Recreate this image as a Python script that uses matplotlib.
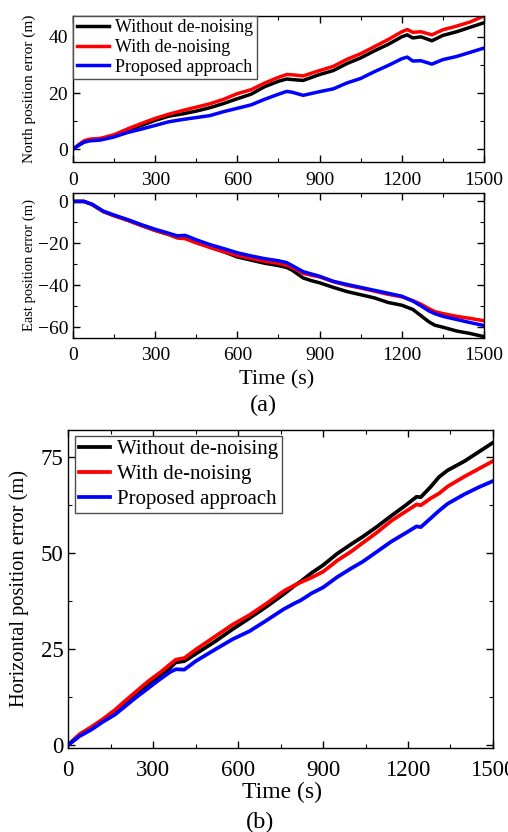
import matplotlib
matplotlib.use('Agg')
import matplotlib.pyplot as plt
from matplotlib.ticker import MultipleLocator

plt.rcParams['font.family'] = 'serif'
plt.rcParams['font.serif'] = ['Liberation Serif', 'DejaVu Serif']

labels = ['Without de-noising', 'With de-noising', 'Proposed approach']
colors = ['black', 'red', 'blue']

# north position error
t_north = [0, 20, 40, 60, 100, 150, 200, 250, 300, 350, 400, 450, 500, 550, 600, 650, 700, 750, 780, 800,
           840, 900, 950, 1000, 1050, 1100, 1150, 1200, 1220, 1240, 1270, 1310, 1350, 1400, 1450, 1500]
north_without = [0, 1.5, 2.8, 3.4, 3.7, 4.8, 6.8, 8.5, 10.3, 11.8, 12.6, 13.6, 14.8, 16.3, 18.0, 19.6, 22.3, 24.2, 25.0, 24.8,
                 24.5, 26.6, 28.0, 30.5, 32.5, 35.0, 37.3, 40.0, 40.7, 39.6, 40.0, 38.6, 40.5, 41.8, 43.4, 45.0]
north_with = [0, 1.6, 3.0, 3.6, 3.9, 5.2, 7.3, 9.2, 11.0, 12.5, 13.8, 15.0, 16.2, 17.8, 19.8, 21.2, 23.6, 25.6, 26.6, 26.5,
              26.1, 28.0, 29.5, 32.0, 34.0, 36.5, 39.0, 41.8, 42.6, 41.6, 41.8, 40.7, 42.5, 43.8, 45.3, 47.4]
north_proposed = [0, 1.4, 2.5, 3.0, 3.3, 4.4, 6.0, 7.2, 8.5, 9.8, 10.6, 11.3, 12.0, 13.4, 14.6, 15.8, 17.8, 19.6, 20.6, 20.3,
                  19.2, 20.5, 21.5, 23.6, 25.2, 27.6, 29.8, 32.2, 32.8, 31.4, 31.5, 30.3, 31.9, 33.0, 34.5, 36.0]

# east position error
t_east = [0, 40, 70, 110, 150, 200, 250, 300, 350, 380, 410, 450, 500, 550, 600, 650, 700, 750, 780, 800,
          840, 870, 900, 950, 1000, 1050, 1100, 1150, 1200, 1240, 1270, 1300, 1320, 1350, 1400, 1450, 1500]
east_without = [0, 0, -1.5, -4.8, -6.8, -9.0, -11.5, -13.8, -15.8, -17.2, -17.5, -19.5, -21.7, -24.0, -26.5, -28.0, -29.5, -30.6, -31.5, -32.8,
                -36.5, -37.8, -38.8, -41.0, -43.0, -44.5, -46.0, -48.2, -49.5, -51.5, -54.5, -57.5, -59.0, -60.0, -61.8, -63.0, -64.5]
east_with = [0, 0, -1.5, -4.8, -6.8, -9.0, -11.5, -13.8, -15.8, -17.4, -17.8, -19.8, -22.0, -24.0, -25.8, -27.2, -28.5, -29.5, -30.5, -31.5,
             -34.3, -35.2, -36.0, -38.3, -40.0, -41.3, -42.8, -44.3, -45.5, -47.3, -49.0, -51.2, -52.5, -53.5, -54.8, -55.8, -56.9]
east_proposed = [0, 0, -1.4, -4.6, -6.5, -8.7, -11.1, -13.3, -15.2, -16.4, -16.2, -18.3, -20.6, -22.5, -24.5, -26.0, -27.3, -28.3, -29.2, -30.6,
                 -33.5, -34.6, -35.7, -38.1, -39.6, -41.0, -42.4, -43.8, -45.2, -47.5, -49.8, -52.3, -53.5, -54.8, -56.3, -57.8, -59.2]

# horizontal position error
t_horiz = [0, 40, 80, 120, 165, 200, 240, 283, 320, 360, 380, 410, 450, 520, 580, 640, 700, 760, 800, 820,
           860, 900, 950, 1000, 1040, 1090, 1140, 1190, 1230, 1245, 1280, 1310, 1340, 1400, 1450, 1500]
horiz_without = [0, 2.6, 4.3, 6.3, 8.6, 10.8, 13.2, 15.9, 17.8, 20.1, 21.5, 21.8, 23.7, 27.0, 30.1, 33.0, 36.0, 39.2, 41.5, 42.5,
                 44.8, 46.8, 49.8, 52.3, 54.2, 56.8, 59.6, 62.3, 64.6, 64.5, 67.2, 69.8, 71.5, 73.9, 76.3, 78.7]
horiz_with = [0, 2.8, 4.6, 6.6, 9.1, 11.4, 13.9, 16.6, 18.6, 21.0, 22.2, 22.6, 24.8, 28.3, 31.3, 33.8, 36.8, 40.0, 41.6, 42.3,
              43.6, 45.1, 48.0, 50.4, 52.6, 55.3, 58.3, 60.7, 62.6, 62.4, 64.2, 65.5, 67.3, 69.9, 71.9, 73.9]
horiz_proposed = [0, 2.3, 3.9, 5.9, 7.9, 10.0, 12.4, 14.8, 16.9, 19.0, 19.7, 19.6, 21.8, 24.9, 27.5, 29.6, 32.4, 35.3, 36.9, 37.6,
                  39.5, 41.0, 43.7, 46.0, 47.7, 50.3, 52.9, 55.1, 56.9, 56.7, 59.0, 61.0, 62.8, 65.3, 67.1, 68.7]


def style_axes(ax, yminor, fs):
    ax.set_xlim(0, 1500)
    ax.xaxis.set_major_locator(MultipleLocator(300))
    ax.xaxis.set_minor_locator(MultipleLocator(150))
    ax.yaxis.set_minor_locator(MultipleLocator(yminor))
    ax.tick_params(which='both', direction='in', top=True, right=True, labelsize=fs)
    ax.tick_params(which='major', length=5, width=1)
    ax.tick_params(which='minor', length=3, width=0.8)
    ax.tick_params(axis='x', pad=7)
    for s in ax.spines.values():
        s.set_linewidth(1.0)


fig = plt.figure(figsize=(5.08, 8.32), dpi=100)

ax1 = fig.add_axes([0.1437, 0.8053, 0.809, 0.1758])
for y, c, l in zip([north_without, north_with, north_proposed], colors, labels):
    ax1.plot(t_north, y, color=c, lw=2.5, label=l)
ax1.set_ylim(-4.5, 47.5)
ax1.yaxis.set_major_locator(MultipleLocator(20))
style_axes(ax1, 10, 14)
ax1.set_ylabel('North position error (m)', fontsize=11)
ax1.yaxis.set_label_coords(-0.09, 0.5)
leg = ax1.legend(loc='upper left', borderaxespad=0, fontsize=13, fancybox=False, edgecolor='0.3',
                 framealpha=1, handlelength=1.8, handletextpad=0.35, borderpad=0.2, labelspacing=0.15)
leg.get_frame().set_linewidth(1.0)

ax2 = fig.add_axes([0.1437, 0.5941, 0.809, 0.1739])
for y, c, l in zip([east_without, east_with, east_proposed], colors, labels):
    ax2.plot(t_east, y, color=c, lw=2.5, label=l)
ax2.set_ylim(-65, 4)
ax2.yaxis.set_major_locator(MultipleLocator(20))
style_axes(ax2, 10, 14)
ax2.set_ylabel('East position error (m)', fontsize=10.5)
ax2.yaxis.set_label_coords(-0.091, 0.5)
fig.text(277 / 508, 1 - 380 / 832, 'Time (s)', fontsize=16, ha='center', va='center')
fig.text(263 / 508, 1 - 405 / 832, '(a)', fontsize=17.5, ha='center', va='center')

ax3 = fig.add_axes([0.1344, 0.1010, 0.836, 0.3822])
for y, c, l in zip([horiz_without, horiz_with, horiz_proposed], colors, labels):
    ax3.plot(t_horiz, y, color=c, lw=2.7, label=l)
ax3.set_ylim(-0.8, 82)
ax3.yaxis.set_major_locator(MultipleLocator(25))
style_axes(ax3, 12.5, 16.5)
ax3.tick_params(axis='x', pad=9)
ax3.set_ylabel('Horizontal position error (m)', fontsize=14.7)
ax3.yaxis.set_label_coords(-0.092, 0.5)
leg = ax3.legend(loc='upper left', bbox_to_anchor=(0.016, 0.982), borderaxespad=0, fontsize=15, fancybox=False,
                 edgecolor='0.3', framealpha=1, handlelength=1.5, handletextpad=0.32, borderpad=0.2, labelspacing=0.25)
leg.get_frame().set_linewidth(1.0)
fig.text(282 / 508, 1 - 792 / 832, 'Time (s)', fontsize=17, ha='center', va='center')
fig.text(260 / 508, 1 - 822 / 832, '(b)', fontsize=17.5, ha='center', va='center')

plt.savefig('out.png', dpi=100)
